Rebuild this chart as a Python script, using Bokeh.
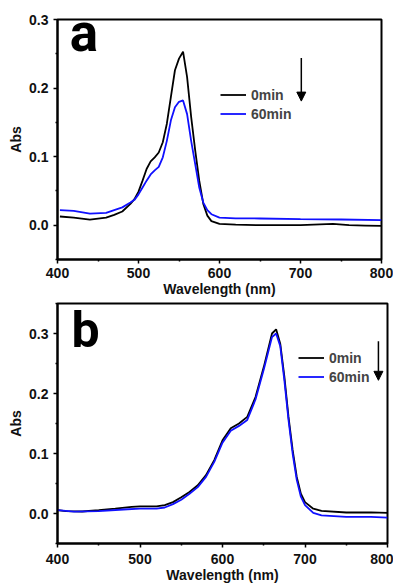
from bokeh.plotting import figure
from bokeh.layouts import column
from bokeh.models import (Legend, LegendItem, Label, Arrow, NormalHead, Range1d, FixedTicker,
                          CustomJSTickFormatter)
from bokeh.embed import file_html
from bokeh.resources import INLINE

# Panel a data
wl_a0 = [403, 420, 440, 460, 470, 480, 490, 495, 500, 505, 510, 515, 520, 525, 530, 535, 540, 545, 550, 555,
         560, 565, 570, 575, 580, 585, 590, 600, 620, 650, 700, 740, 760, 780, 800]
abs_a0 = [0.0127, 0.011, 0.008, 0.011, 0.015, 0.020, 0.031, 0.038, 0.049, 0.065, 0.082, 0.093, 0.099, 0.106,
          0.121, 0.148, 0.187, 0.226, 0.243, 0.253, 0.216, 0.158, 0.109, 0.065, 0.031, 0.014, 0.006, 0.002,
          0.001, 0.0, 0.0, 0.002, 0.0, -0.0005, -0.001]
wl_a60 = [403, 420, 440, 460, 480, 490, 495, 500, 505, 510, 515, 520, 525, 530, 535, 540, 545, 550, 555, 560,
          565, 570, 575, 580, 585, 590, 600, 620, 650, 700, 750, 800]
abs_a60 = [0.022, 0.021, 0.017, 0.018, 0.026, 0.033, 0.037, 0.045, 0.055, 0.065, 0.074, 0.080, 0.085, 0.099,
           0.123, 0.153, 0.172, 0.180, 0.182, 0.162, 0.123, 0.089, 0.055, 0.033, 0.022, 0.016, 0.011, 0.010,
           0.0098, 0.0088, 0.0083, 0.0073]

# Panel b data
wl_b0 = [400, 410, 430, 450, 470, 490, 500, 520, 530, 540, 550, 560, 570, 580, 590, 600, 610, 620, 630, 640,
         650, 660, 665, 670, 675, 680, 685, 690, 695, 700, 710, 720, 750, 780, 800]
abs_b0 = [0.0056, 0.004, 0.0033, 0.0056, 0.008, 0.011, 0.012, 0.012, 0.014, 0.019, 0.027, 0.036, 0.047, 0.064,
          0.089, 0.122, 0.142, 0.150, 0.161, 0.194, 0.244, 0.300, 0.307, 0.283, 0.228, 0.161, 0.106, 0.061,
          0.033, 0.019, 0.008, 0.0044, 0.0017, 0.002, 0.001]
wl_b60 = [400, 420, 450, 480, 500, 520, 530, 540, 550, 560, 570, 580, 590, 600, 610, 620, 630, 640, 650, 660,
          665, 670, 675, 680, 685, 690, 695, 700, 710, 720, 750, 780, 800]
abs_b60 = [0.0056, 0.003, 0.004, 0.0067, 0.008, 0.008, 0.010, 0.0156, 0.023, 0.033, 0.044, 0.061, 0.086, 0.118,
           0.138, 0.146, 0.156, 0.190, 0.240, 0.294, 0.300, 0.279, 0.222, 0.156, 0.100, 0.056, 0.028, 0.014,
           0.001, -0.003, -0.0056, -0.0056, -0.007]

series_labels = ["0min", "60min"]
x_ticks = [400, 500, 600, 700, 800]
x_minor = [450, 550, 650, 750]
y_ticks = [0.0, 0.1, 0.2, 0.3]

FONT = "Liberation Sans"
BLACK = "#000000"
BLUE = "#1010ff"


def make_panel(wl0, a0, wl60, a60, yr, y_minor, frame_w, border_r, border_t, border_b, x_standoff,
               letter, letter_xy, letter_size, legend_loc, arrow):
    p = figure(frame_width=frame_w, frame_height=240, output_backend="svg", toolbar_location=None,
               x_range=Range1d(400, 800), y_range=Range1d(*yr),
               min_border_left=57, min_border_right=border_r, min_border_top=border_t,
               min_border_bottom=border_b)
    p.grid.visible = False
    p.outline_line_color = "black"
    p.outline_line_width = 2
    p.background_fill_color = "white"
    p.border_fill_color = "white"
    r0 = p.line(wl0, a0, line_color=BLACK, line_width=1.8)
    r60 = p.line(wl60, a60, line_color=BLUE, line_width=1.8)

    for ax in (p.xaxis[0], p.yaxis[0]):
        ax.axis_line_width = 2
        ax.major_tick_in = 0
        ax.major_tick_out = 4
        ax.minor_tick_in = 0
        ax.minor_tick_out = 2
        ax.major_tick_line_width = 1.5
        ax.minor_tick_line_width = 1.5
        ax.major_label_text_font = FONT
        ax.major_label_text_font_style = "bold"
        ax.major_label_text_font_size = "14px"
        ax.major_label_text_color = "#111111"
        ax.axis_label_text_font = FONT
        ax.axis_label_text_font_style = "bold"
        ax.axis_label_text_font_size = "14px"
        ax.axis_label_text_color = "#111111"
    p.yaxis[0].ticker = FixedTicker(ticks=y_ticks, minor_ticks=y_minor)
    p.xaxis[0].ticker = FixedTicker(ticks=x_ticks, minor_ticks=x_minor)
    p.yaxis[0].formatter = CustomJSTickFormatter(code="return tick.toFixed(1);")
    p.xaxis.axis_label = "Wavelength (nm)"
    p.yaxis.axis_label = "Abs"
    p.xaxis.major_label_standoff = x_standoff
    p.xaxis.axis_label_standoff = 0
    p.yaxis.major_label_standoff = 5
    p.yaxis.axis_label_standoff = 2

    legend = Legend(items=[LegendItem(label=series_labels[0], renderers=[r0]),
                           LegendItem(label=series_labels[1], renderers=[r60])],
                    location=legend_loc, orientation="vertical",
                    border_line_color=None, background_fill_alpha=0,
                    padding=0, margin=0, spacing=0, glyph_width=26, glyph_height=19,
                    label_height=19, label_standoff=5,
                    label_text_font=FONT, label_text_font_style="bold", label_text_font_size="14px")
    p.add_layout(legend, "center")

    p.add_layout(Label(x=letter_xy[0], y=letter_xy[1], text=letter,
                       text_font="Roboto", text_font_style="bold", text_font_size=letter_size,
                       text_baseline="alphabetic", text_color="black"))
    ax_, y1, y2 = arrow
    p.add_layout(Arrow(x_start=ax_, y_start=y1, x_end=ax_, y_end=y2, line_width=1.5, line_color="black",
                       end=NormalHead(size=9, fill_color="black", line_color="black")))
    return p


pa = make_panel(wl_a0, abs_a0, wl_a60, abs_a60, (-0.05, 0.3), [-0.05, 0.05, 0.15, 0.25], 324, 12, 19, 40, 4,
                "a", (415, 0.281), "53px", (163, 136), (701, 0.244, 0.181))
pb = make_panel(wl_b0, abs_b0, wl_b60, abs_b60, (-0.05, 0.35), [-0.05, 0.05, 0.15, 0.25, 0.35], 330, 6, 4, 42, 6,
                "b", (417, 0.306), "50px", (241, 157), (789, 0.287, 0.222))

layout = column(pa, pb, spacing=0)
open("out.html", "w").write(file_html(layout, INLINE))
